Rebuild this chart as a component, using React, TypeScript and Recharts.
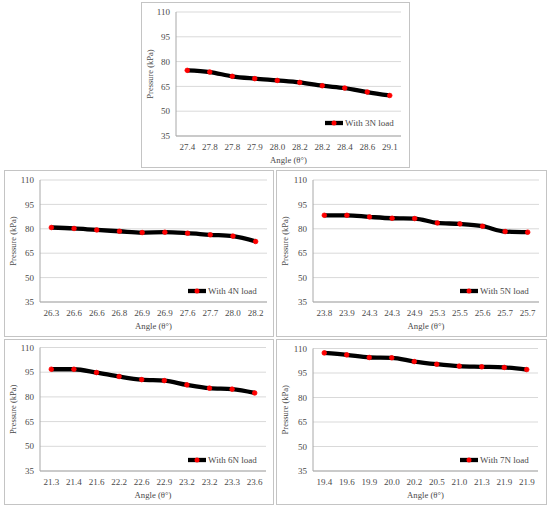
import React from 'react';
import { LineChart, Line, XAxis, YAxis, CartesianGrid, Legend } from 'recharts';

const angles3N = ['27.4', '27.8', '27.8', '27.9', '28.0', '28.2', '28.2', '28.4', '28.6', '29.1'];
const pressure3N = [74.7, 73.7, 71.1, 69.7, 68.6, 67.4, 65.4, 64.0, 61.6, 59.5];

const angles4N = ['26.3', '26.6', '26.6', '26.8', '26.9', '26.9', '27.6', '27.7', '28.0', '28.2'];
const pressure4N = [80.8, 80.2, 79.3, 78.5, 77.7, 77.9, 77.3, 76.3, 75.5, 72.2];

const angles5N = ['23.8', '23.9', '24.3', '24.3', '24.9', '25.3', '25.5', '25.6', '25.7', '25.7'];
const pressure5N = [88.3, 88.3, 87.3, 86.5, 86.3, 83.6, 83.0, 81.6, 78.3, 77.9];

const angles6N = ['21.3', '21.4', '21.6', '22.2', '22.6', '22.9', '23.2', '23.2', '23.3', '23.6'];
const pressure6N = [96.8, 96.8, 94.8, 92.4, 90.5, 89.9, 87.3, 85.3, 84.7, 82.4];

const angles7N = ['19.4', '19.6', '19.9', '20.0', '20.2', '20.5', '21.0', '21.3', '21.9', '21.9'];
const pressure7N = [107.3, 106.1, 104.5, 104.3, 102.0, 100.4, 99.2, 98.8, 98.4, 97.1];

const yTicks = [35, 50, 65, 80, 95, 110];
const yDomain: [number, number] = [35, 110];

const seriesNames = ['With 3N load', 'With 4N load', 'With 5N load', 'With 6N load', 'With 7N load'];
const xTitle = 'Angle (θ°)';
const yTitle = 'Pressure (kPa)';

const FONT = '"Liberation Serif", "Times New Roman", serif';
const TEXT = '#4a4a4a';
const PLOT_BORDER = '#a8a8a8';
const GRID = '#d9d9d9';
const PANEL_BORDER = '#c4c4c4';

type PanelLayout = {
  left: number;
  top: number;
  w: number;
  h: number;
  plotLeft: number;
  plotRight: number;
  plotTop: number;
  plotBottom: number;
};

const layouts: PanelLayout[] = [
  { left: 141, top: 2, w: 269, h: 166, plotLeft: 176, plotRight: 401, plotTop: 12, plotBottom: 136 },
  { left: 4, top: 170, w: 270, h: 167, plotLeft: 40, plotRight: 267, plotTop: 180, plotBottom: 302 },
  { left: 276, top: 170, w: 271, h: 167, plotLeft: 313, plotRight: 539, plotTop: 180, plotBottom: 302 },
  { left: 4, top: 339, w: 270, h: 166, plotLeft: 40, plotRight: 266, plotTop: 347.5, plotBottom: 471 },
  { left: 276, top: 339, w: 271, h: 166, plotLeft: 313, plotRight: 538, plotTop: 348.5, plotBottom: 471 },
];

const LegendContent = (props: any) => {
  const item = props.payload && props.payload[0];
  return (
    <div
      style={{
        display: 'flex',
        alignItems: 'center',
        fontFamily: FONT,
        fontSize: 9,
        color: TEXT,
        whiteSpace: 'nowrap',
        lineHeight: '12px',
      }}
    >
      <svg width={18} height={8} style={{ display: 'block' }}>
        <line x1={0} y1={4} x2={18} y2={4} stroke="#000" strokeWidth={4.3} />
        <circle cx={9} cy={4} r={2.5} fill="#ff0000" />
      </svg>
      <span style={{ marginLeft: 2 }}>{item ? item.value : ''}</span>
    </div>
  );
};

function Panel({ layout, angles, values, name }: { layout: PanelLayout; angles: string[]; values: number[]; name: string }) {
  const data = angles.map((a, i) => ({ angle: a, p: values[i] }));
  const chartW = layout.w - 2;
  const chartH = layout.h - 2;
  const originX = layout.left + 1;
  const originY = layout.top + 1;
  const yAxisW = layout.plotLeft - originX;
  const marginRight = originX + chartW - layout.plotRight;
  const marginTop = layout.plotTop - originY;
  const xAxisH = originY + chartH - layout.plotBottom;
  const plotW = layout.plotRight - layout.plotLeft;
  const pad = plotW / 20;
  return (
    <div
      style={{
        position: 'absolute',
        left: layout.left,
        top: layout.top,
        width: chartW,
        height: chartH,
        border: `1px solid ${PANEL_BORDER}`,
        background: '#fff',
      }}
    >
      <LineChart
        width={chartW}
        height={chartH}
        data={data}
        margin={{ top: marginTop, right: marginRight, left: 0, bottom: 0 }}
        style={{ fontFamily: FONT }}
      >
        <CartesianGrid stroke={GRID} vertical={false} />
        <XAxis
          dataKey="angle"
          type="category"
          interval={0}
          height={xAxisH}
          padding={{ left: pad, right: pad }}
          tickLine={false}
          tickSize={6}
          tickMargin={2}
          axisLine={{ stroke: PLOT_BORDER }}
          tick={{ fontSize: 9, fill: TEXT, fontFamily: FONT }}
          label={{
            value: xTitle,
            position: 'insideTop',
            offset: 20.5,
            fontSize: 8.7,
            fill: TEXT,
            fontFamily: FONT,
          }}
        />
        <XAxis
          xAxisId="top"
          orientation="top"
          height={0}
          tick={false}
          tickLine={false}
          axisLine={{ stroke: PLOT_BORDER }}
        />
        <YAxis
          domain={yDomain}
          ticks={yTicks}
          width={yAxisW}
          tickLine={false}
          tickSize={4}
          tickMargin={2}
          axisLine={{ stroke: PLOT_BORDER }}
          tick={{ fontSize: 9, fill: TEXT, fontFamily: FONT }}
          label={{
            value: yTitle,
            angle: -90,
            position: 'insideLeft',
            offset: 8,
            fontSize: 8.5,
            fill: TEXT,
            fontFamily: FONT,
            style: { textAnchor: 'middle' },
          }}
        />
        <YAxis
          yAxisId="right"
          orientation="right"
          domain={yDomain}
          width={0}
          tick={false}
          tickLine={false}
          axisLine={{ stroke: PLOT_BORDER }}
        />
        <Legend
          layout="vertical"
          align="center"
          verticalAlign="middle"
          content={LegendContent}
          wrapperStyle={{ left: 183, top: 114, width: 'auto', height: 'auto' }}
        />
        <Line
          dataKey="p"
          name={name}
          type="monotone"
          stroke="#000"
          strokeWidth={4.3}
          dot={{ r: 2.3, fill: '#ff0000', stroke: '#ff0000', strokeWidth: 0.8 }}
          activeDot={false}
          isAnimationActive={false}
        />
      </LineChart>
    </div>
  );
}

export default function App() {
  const series = [
    { angles: angles3N, values: pressure3N },
    { angles: angles4N, values: pressure4N },
    { angles: angles5N, values: pressure5N },
    { angles: angles6N, values: pressure6N },
    { angles: angles7N, values: pressure7N },
  ];
  return (
    <div style={{ position: 'absolute', left: 0, top: 0, width: 550, height: 508, background: '#fff' }}>
      {series.map((s, i) => (
        <Panel key={i} layout={layouts[i]} angles={s.angles} values={s.values} name={seriesNames[i]} />
      ))}
    </div>
  );
}
